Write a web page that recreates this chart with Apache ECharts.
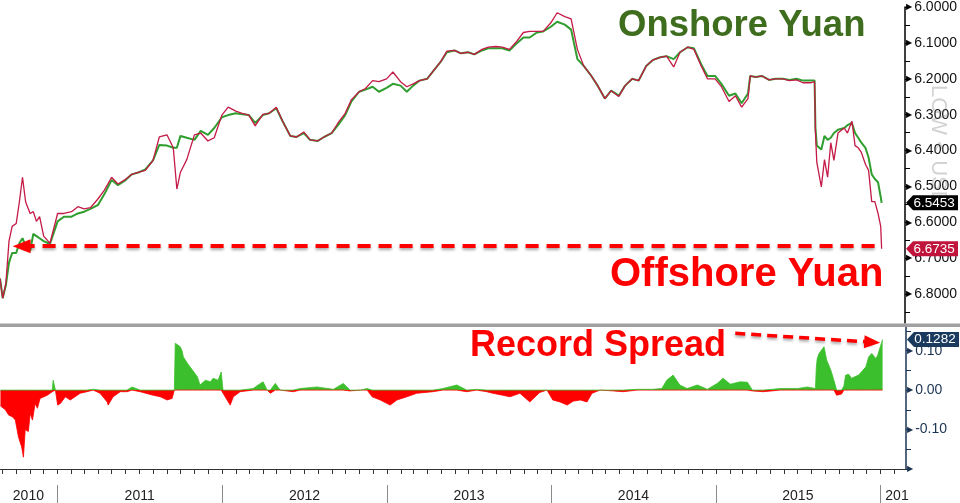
<!DOCTYPE html>
<html><head><meta charset="utf-8">
<script src="https://cdn.jsdelivr.net/npm/echarts@6/dist/echarts.min.js"></script>
<style>html,body{margin:0;padding:0;background:#fff}#c{width:960px;height:503px}</style>
</head><body><div id="c"></div>
<script>
// ---------- data ----------
const priceDates = ['2010-08-26','2010-09-01','2010-09-08','2010-09-15','2010-09-22','2010-10-01','2010-10-08','2010-10-15','2010-10-22','2010-11-01','2010-11-08','2010-11-15','2010-11-22','2010-12-01','2010-12-15',
'2011-01-01','2011-01-15','2011-02-01','2011-02-15','2011-03-01','2011-03-15','2011-04-01','2011-04-15','2011-05-01','2011-05-15','2011-06-01','2011-06-15','2011-07-01','2011-07-15','2011-08-01','2011-08-15','2011-09-01','2011-09-15','2011-09-23','2011-10-01','2011-10-15','2011-11-01','2011-11-15','2011-12-01','2011-12-15',
'2012-01-01','2012-01-15','2012-02-01','2012-02-15','2012-03-01','2012-03-15','2012-04-01','2012-04-15','2012-05-01','2012-05-15','2012-06-01','2012-06-15','2012-07-01','2012-07-15','2012-08-01','2012-08-15','2012-09-01','2012-09-15','2012-10-01','2012-10-15','2012-11-01','2012-11-15','2012-12-01','2012-12-15',
'2013-01-01','2013-01-15','2013-02-01','2013-02-15','2013-03-01','2013-03-15','2013-04-01','2013-04-15','2013-05-01','2013-05-15','2013-06-01','2013-06-15','2013-07-01','2013-07-15','2013-08-01','2013-08-15','2013-09-01','2013-09-15','2013-10-01','2013-10-15','2013-11-01','2013-11-15','2013-12-01','2013-12-15',
'2014-01-01','2014-01-15','2014-02-01','2014-02-15','2014-03-01','2014-03-15','2014-04-01','2014-04-15','2014-05-01','2014-05-15','2014-06-01','2014-06-15','2014-07-01','2014-07-15','2014-08-01','2014-08-15','2014-09-01','2014-09-15','2014-10-01','2014-10-15','2014-11-01','2014-11-15','2014-12-01','2014-12-15',
'2015-01-01','2015-01-15','2015-02-01','2015-02-15','2015-03-01','2015-03-15','2015-03-20','2015-04-01','2015-04-15','2015-05-01','2015-05-15','2015-06-01','2015-06-15','2015-07-01','2015-07-15','2015-08-01','2015-08-10','2015-08-12','2015-08-15','2015-08-25','2015-09-01','2015-09-08','2015-09-15','2015-09-22','2015-10-01','2015-10-15','2015-10-22','2015-11-01','2015-11-08','2015-11-15','2015-11-22','2015-12-01','2015-12-08','2015-12-15','2015-12-22','2015-12-29','2016-01-04','2016-01-06'];

const offshore = [6.756,6.811,6.770,6.652,6.611,6.603,6.543,6.474,6.543,6.575,6.570,6.597,6.584,6.638,6.658,
6.575,6.575,6.570,6.556,6.562,6.559,6.534,6.510,6.474,6.493,6.480,6.466,6.460,6.455,6.427,6.362,6.356,6.392,6.507,6.460,6.425,6.356,6.351,6.373,6.364,
6.301,6.279,6.290,6.296,6.301,6.331,6.299,6.296,6.279,6.318,6.359,6.362,6.348,6.370,6.373,6.362,6.351,6.323,6.296,6.258,6.236,6.227,6.205,6.208,
6.200,6.181,6.208,6.222,6.214,6.205,6.200,6.178,6.153,6.123,6.121,6.129,6.126,6.132,6.118,6.112,6.110,6.112,6.118,6.099,6.071,6.068,6.068,6.068,
6.044,6.016,6.027,6.033,6.118,6.164,6.192,6.219,6.255,6.233,6.249,6.219,6.200,6.205,6.164,6.148,6.140,6.137,6.167,6.126,6.112,6.118,6.164,6.200,
6.200,6.222,6.263,6.247,6.279,6.255,6.192,6.195,6.192,6.203,6.200,6.200,6.205,6.203,6.211,6.211,6.208,6.351,6.433,6.501,6.425,6.474,6.378,6.427,6.351,6.337,6.351,6.318,6.386,6.392,6.405,6.438,6.455,6.542,6.542,6.575,6.611,6.6735];

const onshore = [6.756,6.811,6.775,6.712,6.685,6.685,6.658,6.644,6.665,6.679,6.632,6.638,6.644,6.652,6.660,
6.597,6.584,6.584,6.575,6.570,6.562,6.551,6.521,6.482,6.496,6.482,6.466,6.460,6.452,6.427,6.384,6.386,6.392,6.392,6.359,6.364,6.370,6.345,6.356,6.337,
6.307,6.301,6.296,6.299,6.301,6.323,6.301,6.296,6.282,6.318,6.359,6.362,6.351,6.370,6.373,6.362,6.351,6.329,6.301,6.263,6.236,6.230,6.222,6.236,
6.225,6.214,6.219,6.236,6.219,6.205,6.200,6.178,6.153,6.126,6.121,6.129,6.126,6.132,6.121,6.115,6.115,6.115,6.121,6.104,6.085,6.085,6.071,6.068,
6.055,6.041,6.049,6.063,6.145,6.164,6.192,6.219,6.255,6.233,6.247,6.219,6.200,6.205,6.164,6.148,6.140,6.137,6.145,6.126,6.112,6.115,6.159,6.192,
6.192,6.214,6.247,6.241,6.268,6.241,6.192,6.195,6.192,6.203,6.200,6.200,6.203,6.200,6.205,6.205,6.205,6.337,6.386,6.397,6.359,6.370,6.364,6.351,6.342,6.337,6.329,6.323,6.351,6.364,6.378,6.392,6.419,6.466,6.479,6.488,6.529,6.5453];

const spreadDates = ['2010-08-27','2010-09-07','2010-09-14','2010-09-23','2010-09-29','2010-10-06','2010-10-13','2010-10-17','2010-10-21','2010-10-28','2010-11-01','2010-11-06','2010-11-12','2010-11-17','2010-11-23','2010-12-09','2010-12-20','2010-12-22','2010-12-27',
'2011-01-01','2011-01-07','2011-01-18','2011-01-29','2011-02-20','2011-03-07','2011-03-21','2011-04-05','2011-04-21','2011-04-23','2011-05-04','2011-05-20','2011-06-04','2011-06-15','2011-07-03','2011-08-01','2011-08-17','2011-09-01','2011-09-12','2011-09-17','2011-09-19','2011-09-23','2011-09-30','2011-10-04','2011-10-07','2011-10-16','2011-10-27','2011-11-07','2011-11-13','2011-11-25','2011-12-06','2011-12-12','2011-12-23','2011-12-30',
'2012-01-03','2012-01-12','2012-01-19','2012-01-26','2012-02-10','2012-03-10','2012-03-21','2012-04-01','2012-04-10','2012-04-17','2012-04-28','2012-05-09','2012-06-07','2012-06-22','2012-07-30','2012-09-04','2012-09-26','2012-10-11','2012-11-03','2012-11-18','2012-11-29','2012-12-17',
'2013-01-08','2013-01-23','2013-02-14','2013-03-08','2013-04-13','2013-05-05','2013-06-05','2013-06-27','2013-07-19','2013-08-10','2013-08-24','2013-09-15','2013-10-01','2013-10-23','2013-11-14','2013-12-06','2013-12-22',
'2014-01-04','2014-01-20','2014-02-05','2014-02-18','2014-03-06','2014-03-21','2014-04-01','2014-04-19','2014-05-18','2014-06-09','2014-07-10','2014-08-14','2014-09-03','2014-09-14','2014-09-28','2014-10-13','2014-10-29','2014-11-21','2014-12-13',
'2015-01-04','2015-01-17','2015-02-02','2015-02-24','2015-03-12','2015-03-23','2015-04-16','2015-05-24','2015-07-01','2015-07-23','2015-08-10','2015-08-12','2015-08-14','2015-08-18','2015-08-29','2015-09-04','2015-09-13','2015-09-20','2015-09-26','2015-10-07','2015-10-12','2015-10-16','2015-10-23','2015-10-29','2015-11-14','2015-11-30','2015-12-06','2015-12-13','2015-12-22','2015-12-26','2016-01-06'];

const spread = [-0.040,-0.050,-0.063,-0.068,-0.076,-0.119,-0.144,-0.170,-0.100,-0.105,-0.059,-0.076,-0.034,-0.046,-0.021,-0.013,-0.004,0.025,0.000,
-0.038,-0.034,-0.017,-0.025,-0.008,-0.004,0.002,-0.008,-0.030,-0.038,-0.017,-0.004,-0.004,0.008,-0.004,-0.013,-0.017,-0.025,-0.021,0.000,0.119,0.122,0.110,0.100,0.084,0.068,0.051,0.034,0.013,0.025,0.021,0.030,0.025,0.046,
0.000,-0.025,-0.038,-0.017,-0.004,0.004,0.013,0.021,0.000,-0.008,0.017,0.000,-0.004,0.004,0.008,0.002,0.017,-0.002,0.000,0.004,-0.017,-0.025,
-0.038,-0.025,-0.017,-0.008,-0.004,0.004,0.013,-0.004,0.002,-0.004,-0.008,-0.013,-0.017,-0.008,-0.030,-0.006,0.000,
-0.025,-0.030,-0.038,-0.028,-0.025,-0.030,-0.008,0.000,-0.002,-0.004,0.002,0.002,0.004,0.025,0.038,0.013,0.004,0.013,0.002,
0.017,0.030,0.015,0.021,0.020,-0.002,-0.004,0.004,0.004,0.008,0.004,0.059,0.080,0.093,0.110,0.076,0.051,0.025,-0.013,-0.010,0.010,0.038,0.040,0.030,0.038,0.059,0.084,0.093,0.080,0.088,0.1282];

// axis ticks and labels
const priceLabelValues = [6.0,6.1,6.2,6.3,6.4,6.5,6.6,6.7,6.8];
const priceTickValues = [6.0,6.05,6.1,6.15,6.2,6.25,6.3,6.35,6.4,6.45,6.5,6.55,6.6,6.65,6.7,6.75,6.8,6.85];
const spreadLabelValues = [-0.2,-0.1,0,0.1];
const spreadTickValues = [-0.2,-0.15,-0.1,-0.05,0,0.05,0.1,0.15];
const yearLabels = ['2010','2011','2012','2013','2014','2015','201'];
const yearLabelDates = ['2010-10-28','2011-07-02','2012-07-02','2013-07-02','2014-07-02','2015-07-02','2016-02-07'];
const yearStarts = ['2011-01-01','2012-01-01','2013-01-01','2014-01-01','2015-01-01','2016-01-01'];
const xStart = '2010-08-26', xEnd = '2016-02-27';
const levelLine = 6.666;       // dashed reference level
const arrowFrom = ['2015-02-13', 0.144], arrowTo = ['2015-12-14', 0.1215];

// ---------- helpers ----------
const ts = s => { const p = s.split('-').map(Number); return new Date(p[0], p[1]-1, p[2]).getTime(); };
const monthTicks = [];
for (let y = 2010, m = 8; y < 2016 || (y === 2016 && m <= 1);) { monthTicks.push(new Date(y, m, 1).getTime()); m++; if (m > 11) { m = 0; y++; } }
const yearLabelTs = yearLabelDates.map(ts);
const X0 = ts(xStart), X1 = ts(xEnd);

const offData = priceDates.map((d, i) => [ts(d), offshore[i]]);
const onData = priceDates.map((d, i) => [ts(d), onshore[i]]);
const spPos = spreadDates.map((d, i) => [ts(d), Math.max(0, spread[i])]);
const spNeg = spreadDates.map((d, i) => [ts(d), Math.min(0, spread[i])]);

function tag(color, value) {
  return {
    silent: true, animation: false,
    symbol: 'path://M0,7L7,0L52,0L52,14L7,14Z', symbolKeepAspect: false,
    symbolSize: [52, 15], symbolOffset: [27, 0],
    itemStyle: { color: color },
    label: { show: true, position: 'inside', color: '#fff', fontSize: 13.5, fontFamily: 'Liberation Sans', offset: [2, 0],
             formatter: () => value.toFixed(4) },
    data: [{ coord: [X1, value], value: value }]
  };
}
const FONT = 'Liberation Sans';
const nearest = v => { let best = -1, bd = Infinity; yearLabelTs.forEach((t, i) => { const d = Math.abs(t - v); if (d < bd) { bd = d; best = i; } }); return bd < 86400000 * 3 ? yearLabels[best] : ''; };
const GREEN = '#3cbf2c', RED = '#ff0000';

const chart = echarts.init(document.getElementById('c'), null, { renderer: 'canvas' });
chart.setOption({
  animation: false,
  backgroundColor: '#ffffff',
  grid: [
    { left: 0, right: 54, top: 2, height: 321 },
    { left: 0, right: 54, top: 327, height: 142 }
  ],
  xAxis: [
    { type: 'value', gridIndex: 0, min: X0, max: X1, show: false, splitLine: { show: false } },
    { type: 'value', gridIndex: 1, min: X0, max: X1, position: 'bottom',
      axisLine: { show: true, onZero: false, lineStyle: { color: '#333', width: 1 } },
      axisTick: { show: true, customValues: monthTicks, length: 5, lineStyle: { color: '#333' } },
      axisLabel: { show: false }, splitLine: { show: false } },
    { type: 'value', gridIndex: 1, min: X0, max: X1, position: 'bottom', offset: 16,
      axisLine: { show: false, onZero: false },
      axisTick: { show: true, customValues: yearStarts.map(ts), length: 18, lineStyle: { color: '#8a8a8a' } },
      axisLabel: { show: true, customValues: yearLabelTs, margin: 4, fontSize: 14, fontFamily: FONT, color: '#222',
                   formatter: v => nearest(v) },
      splitLine: { show: false } }
  ],
  yAxis: [
    { type: 'value', gridIndex: 0, position: 'right', inverse: true, min: 6.0, max: 6.88,
      axisLine: { show: true, onZero: false, lineStyle: { color: '#000', width: 1.5 } },
      axisTick: { show: true, inside: false, length: 5, customValues: priceTickValues, lineStyle: { color: '#000' } },
      axisLabel: { show: true, customValues: priceLabelValues, margin: 1, fontSize: 14, fontFamily: FONT, color: '#111',
                   formatter: v => '{t|\u25B6}' + v.toFixed(4),
                   rich: { t: { fontSize: 8, fontFamily: 'DejaVu Sans', color: '#000', padding: [0, 2, 0, 0] } } },
      splitLine: { show: false } },
    { type: 'value', gridIndex: 1, position: 'right', min: -0.2, max: 0.16,
      axisLine: { show: true, onZero: false, lineStyle: { color: '#1b3352', width: 1.5 } },
      axisTick: { show: true, inside: false, length: 5, customValues: spreadTickValues, lineStyle: { color: '#1b3352' } },
      axisLabel: { show: true, customValues: spreadLabelValues, margin: 1, fontSize: 14, fontFamily: FONT, color: '#1b3352',
                   formatter: v => v < -0.15 ? '{t|\u25B6}' : '{t|\u25B6}' + v.toFixed(2),
                   rich: { t: { fontSize: 8, fontFamily: 'DejaVu Sans', color: '#1b3352', padding: [0, 2, 0, 0] } } },
      splitLine: { show: false } }
  ],
  series: [
    { name: 'Onshore Yuan', type: 'line', xAxisIndex: 0, yAxisIndex: 0, data: onData, symbol: 'none', clip: false, z: 2,
      lineStyle: { color: '#2f9e2f', width: 2 }, markPoint: tag('#000000', onshore[onshore.length - 1]) },
    { name: 'Offshore Yuan', type: 'line', xAxisIndex: 0, yAxisIndex: 0, data: offData, symbol: 'none', clip: false, z: 3,
      lineStyle: { color: '#c41a47', width: 1.3 }, markPoint: tag('#c0143c', offshore[offshore.length - 1]),
      markLine: { silent: true, animation: false, symbol: ['none', 'none'], label: { show: false },
        lineStyle: { color: '#ff0000', width: 4, type: [13, 8], shadowBlur: 3, shadowColor: 'rgba(0,0,0,0.35)', shadowOffsetY: 2 },
        data: [[{ coord: [ts('2010-10-13'), levelLine], symbol: 'triangle', symbolSize: [14, 18] },
                { coord: [ts('2016-01-05'), levelLine], symbol: 'none' }]] } },
    { name: 'Spread (negative)', type: 'line', xAxisIndex: 1, yAxisIndex: 1, data: spNeg, symbol: 'none', clip: false, z: 2,
      itemStyle: { color: RED }, lineStyle: { width: 0.8, color: RED }, areaStyle: { opacity: 1, color: RED } },
    { name: 'Spread (positive)', type: 'line', xAxisIndex: 1, yAxisIndex: 1, data: spPos, symbol: 'none', clip: false, z: 2,
      itemStyle: { color: GREEN }, lineStyle: { width: 0.8, color: GREEN }, areaStyle: { opacity: 1, color: GREEN },
      markPoint: tag('#1b3b5e', spread[spread.length - 1]),
      markLine: { silent: true, animation: false, symbol: ['none', 'none'], label: { show: false },
        lineStyle: { color: '#ff0000', width: 3.5, type: [10, 6], shadowBlur: 3, shadowColor: 'rgba(0,0,0,0.35)', shadowOffsetY: 2 },
        data: [[{ coord: [ts(arrowFrom[0]), arrowFrom[1]], symbol: 'none' },
                { coord: [ts(arrowTo[0]), arrowTo[1]], symbol: 'triangle', symbolSize: [13, 16] }]] } }
  ],
  graphic: [
    { type: 'rect', z: 100, shape: { x: 0, y: 323.5, width: 960, height: 3.5 }, style: { fill: '#a0a0a0' } },
    { type: 'text', z: 1, x: 938, y: 85, rotation: -Math.PI / 2,
      style: { text: 'LOW < USD', font: '22px "Liberation Sans"', fill: 'rgba(110,110,110,0.3)', textAlign: 'left', textVerticalAlign: 'middle' } },
    { type: 'text', z: 50, x: 618, y: 26,
      style: { text: 'Onshore Yuan', font: 'bold 36.5px "Liberation Sans"', fill: '#3e6d1e', textAlign: 'left', textVerticalAlign: 'middle' } },
    { type: 'text', z: 50, x: 610, y: 275,
      style: { text: 'Offshore Yuan', font: 'bold 40px "Liberation Sans"', fill: '#ff0000', textAlign: 'left', textVerticalAlign: 'middle' } },
    { type: 'text', z: 50, x: 470, y: 346,
      style: { text: 'Record Spread', font: 'bold 36px "Liberation Sans"', fill: '#ff0000', textAlign: 'left', textVerticalAlign: 'middle' } }
  ]
});
</script>
</body></html>
